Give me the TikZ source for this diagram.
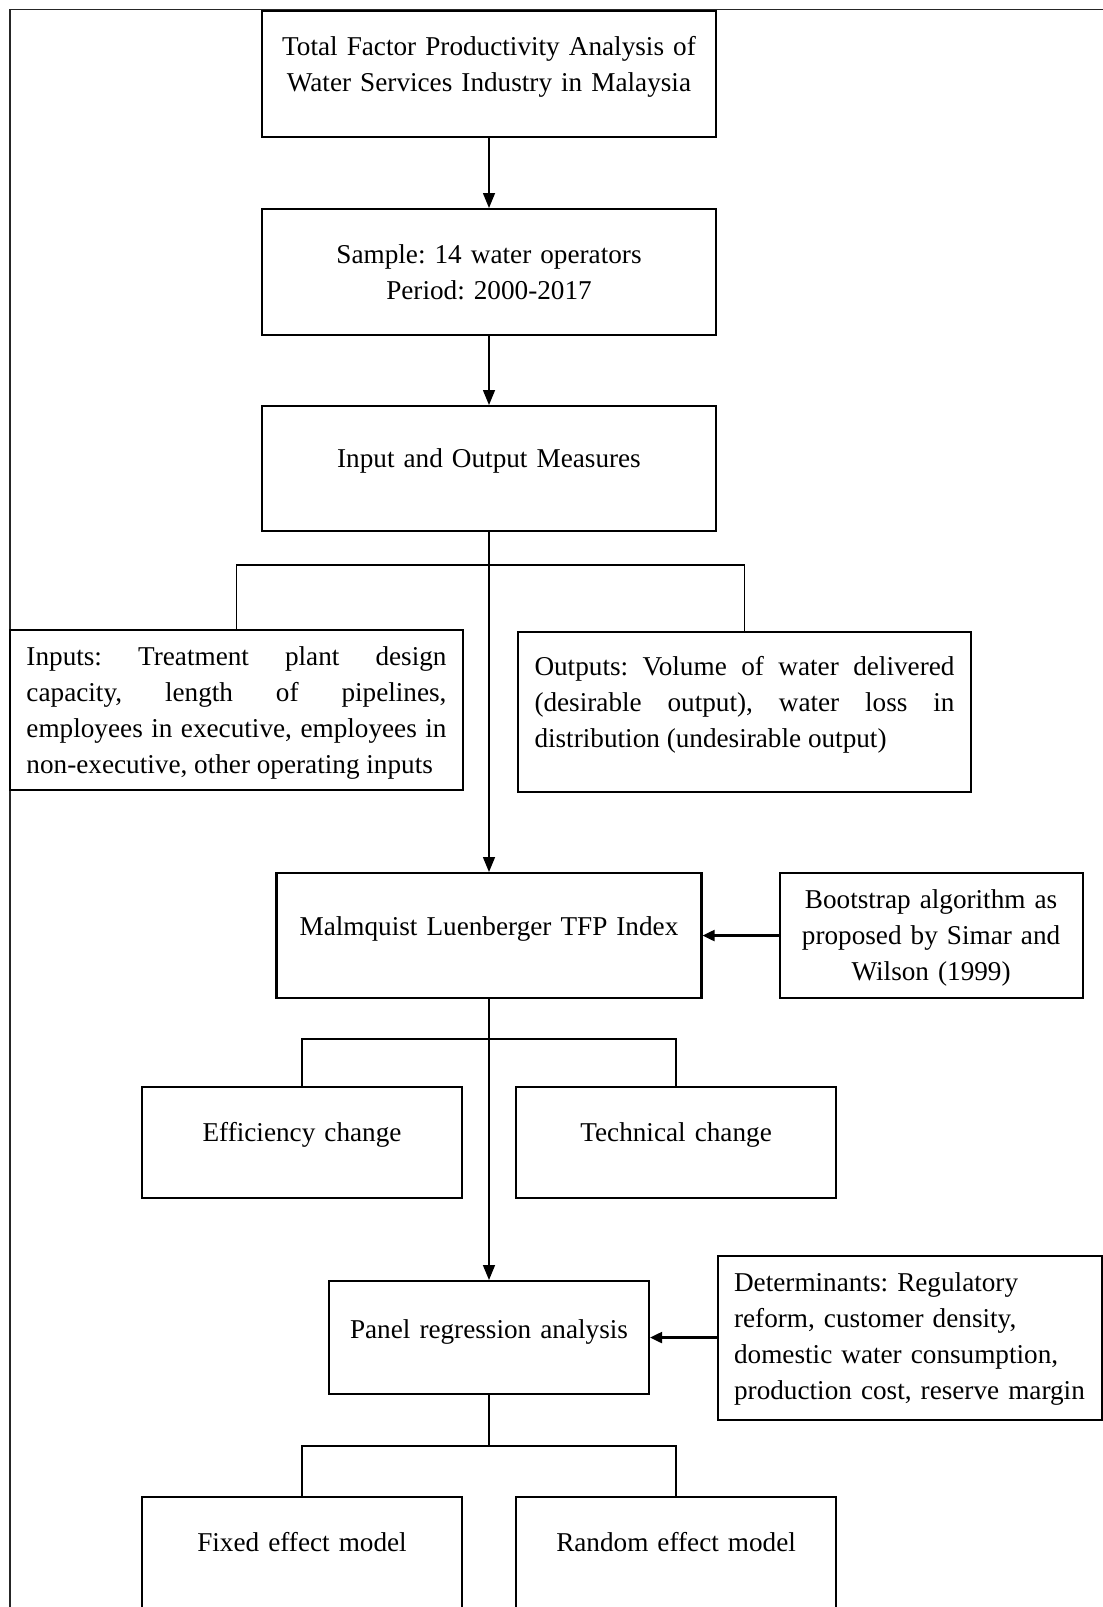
\documentclass[tikz,border=0pt]{standalone}
\usepackage{fontspec}
\setmainfont{Liberation Serif}
\usetikzlibrary{arrows.meta}
\usetikzlibrary{positioning}

\newcommand{\boxfont}{\fontsize{27.2}{36}\selectfont\frenchspacing\hyphenpenalty10000\relax}

\tikzset{
	box/.style={draw, line width=2.1pt, inner xsep=0pt, inner ysep=0pt, align=center, font=\boxfont},
	para/.style={box, inner xsep=16.5pt, text width=420pt, align=justify},
	link/.style={line width=1.5pt},
	arr/.style={link, -{Triangle[length=15pt,width=12pt]}},
	harr/.style={line width=2.2pt, -{Triangle[length=12pt,width=11pt]}},
	frame/.style={draw=black!85, line width=1.3pt}
}

\begin{document}
\begin{tikzpicture}[x=1pt,y=-1pt]
	\useasboundingbox (0,0) rectangle (1103,1607);
	\clip (0,0) rectangle (1103,1607);
	% outer frame
	\draw[frame] (10,9.5) rectangle (1140,1650);

	% main column
	\node [box, anchor=north, text width=454pt, text height=44pt, text depth=82pt] (title) at (489,10)
		{Total Factor Productivity Analysis of\\Water Services Industry in Malaysia};
	\node [box, anchor=north, text width=454pt, text height=54pt, text depth=72pt] (sample) at (489,208)
		{Sample: 14 water operators\\Period: 2000-2017};
	\node [box, anchor=north, text width=454pt, text height=61pt, text depth=64pt] (measures) at (489,405)
		{Input and Output Measures};
	\node [para, anchor=north, text height=35pt, text depth=125pt] (inputs) at (236.5,629)
		{Inputs: Treatment plant design\linebreak capacity, length of pipelines,\linebreak employees in executive, employees in\linebreak non-executive, other operating inputs};
	\node [para, anchor=north, text height=43pt, text depth=117pt] (outputs) at (744.5,631)
		{Outputs: Volume of water delivered\linebreak (desirable output), water loss in\linebreak distribution (undesirable output)};
	\node [box, anchor=north, text width=425pt, text height=62pt, text depth=63pt] (malmquist) at (489,872)
		{Malmquist Luenberger TFP Index};
	\node [box, right=76pt of malmquist, text width=303pt, text height=35pt, text depth=90pt] (bootstrap)
		{Bootstrap algorithm as\\proposed by Simar and\\Wilson (1999)};
	\node [box, anchor=north, text width=320pt, text height=54pt, text depth=57pt] (effchange) at (302,1086)
		{Efficiency change};
	\node [box, right=52pt of effchange, text width=320pt, text height=54pt, text depth=57pt] (techchange)
		{Technical change};
	\node [box, anchor=north, text width=320pt, text height=57pt, text depth=56pt] (panel) at (489,1280)
		{Panel regression analysis};
	\node [box, right=67pt of panel, inner xsep=16pt, text width=352pt, align=left, text height=36pt, text depth=128pt] (determinants)
		{Determinants: Regulatory\\reform, customer density,\\domestic water consumption,\\production cost, reserve margin};
	\node [box, anchor=north, text width=320pt, text height=54pt, text depth=71pt] (fixed) at (302,1496)
		{Fixed effect model};
	\node [box, right=52pt of fixed, text width=320pt, text height=54pt, text depth=71pt] (random)
		{Random effect model};

	\coordinate (fork1) at (489,565);
	\coordinate (fork2) at (489,1039);
	\coordinate (fork3) at (489,1446);

	\draw[arr] (title) -- (sample);
	\draw[arr] (sample) -- (measures);
	\draw[arr] (measures) -- (malmquist);
	\draw[link] (inputs.north) |- (fork1) -| (outputs.north);
	\draw[harr] (bootstrap) -- (malmquist);
	\draw[arr] (malmquist) -- (panel);
	\draw[link] (effchange.north) |- (fork2) -| (techchange.north);
	\draw[harr] (determinants) -- (panel);
	\draw[link] (panel) -- (fork3);
	\draw[link] (fixed.north) |- (fork3) -| (random.north);
\end{tikzpicture}
\end{document}
